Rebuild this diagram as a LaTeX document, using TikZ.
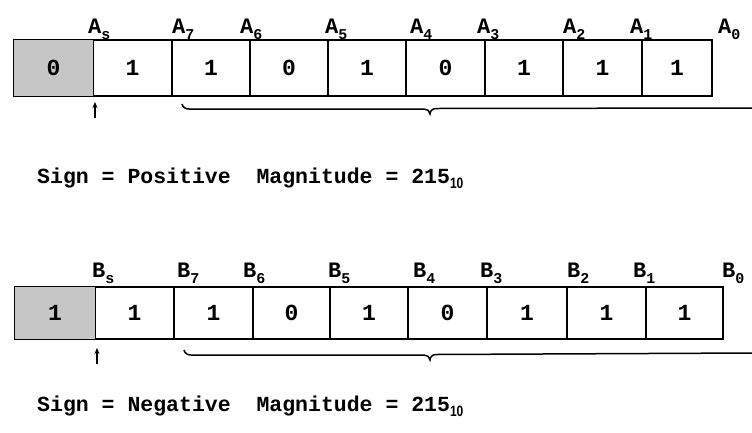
\documentclass[tikz,border=0pt]{standalone}
\usepackage{fontspec}
\usetikzlibrary{arrows.meta}
\newfontfamily\mono{Liberation Mono}
\newfontfamily\subsans{Liberation Sans}[FakeStretch=0.8]
\newcommand{\mysub}[1]{\raisebox{-6pt}{\mono\bfseries\fontsize{15}{15}\selectfont #1}}
\begin{document}
\begin{tikzpicture}[x=1pt,y=-1pt,
  cell/.style={draw, line width=1.5pt, inner sep=0pt, font=\mono\bfseries\fontsize{23}{23}\selectfont},
  lbl/.style={anchor=base west, inner sep=0pt, font=\mono\bfseries\fontsize{22}{22}\selectfont},
  caption/.style={anchor=base west, inner sep=0pt, font=\mono\bfseries\fontsize{21.5}{21.5}\selectfont},
  brc/.style={line width=1.5pt},
  tick/.style={line width=1.5pt, -{Stealth[length=6pt,width=5pt]}}]
\useasboundingbox (0,0) rectangle (752,432);
% ---------- row A ----------
\foreach \l/\r/\v/\nm in {14/93/0/as0,93/172/1/a8,172/250/1/a7,250/328/0/a6,328/406/1/a5,406/485/0/a4,485/563/1/a3,563/642/1/a2,642/712/1/a1}{
  \pgfmathsetmacro\w{\r-\l}
  \pgfmathsetmacro\c{(\l+\r)/2}
  \node[cell, minimum width=\w pt, minimum height=56pt] (\nm) at (\c,68) {\v};
}
\fill[gray!45] ([shift={(0.75pt,0.75pt)}]as0.south west) rectangle ([shift={(-0.75pt,-0.75pt)}]as0.north east);
\node[cell, draw=none] at (as0) {0};
\foreach \x/\s/\nm in {88/s/las,172/7/la7,240/6/la6,325/5/la5,410/4/la4,477/3/la3,563/2/la2,630/1/la1,718/0/la0}{
  \node[lbl] (\nm) at (\x,33) {A\mysub{\s}};
}
\coordinate (aupT) at (95,102);
\coordinate (aupB) at (95,118);
\draw[tick] (aupB) -- (aupT);
\coordinate (abL) at (182,104);
\coordinate (abT) at (430,114);
\coordinate (abR) at (752,108);
\draw[brc] (abL) to[out=-80,in=180] (189,109) -- (424,109) to[out=0,in=90] (abT) to[out=90,in=180] (436,108.5) -- (abR);
\node[caption] (capA) at (37,183) {Sign = Positive\ \ Magnitude = 215\raisebox{-5pt}{\subsans\fontsize{15}{15}\selectfont 10}};
% ---------- row B ----------
\foreach \l/\r/\v/\nm in {15/95/1/bs0,95/174/1/b8,174/253/1/b7,253/330/0/b6,330/408/1/b5,408/487/0/b4,487/567/1/b3,567/646/1/b2,646/723/1/b1}{
  \pgfmathsetmacro\w{\r-\l}
  \pgfmathsetmacro\c{(\l+\r)/2}
  \node[cell, minimum width=\w pt, minimum height=52pt] (\nm) at (\c,313) {\v};
}
\fill[gray!45] ([shift={(0.75pt,0.75pt)}]bs0.south west) rectangle ([shift={(-0.75pt,-0.75pt)}]bs0.north east);
\node[cell, draw=none] at (bs0) {1};
\foreach \x/\s/\nm in {92/s/lbs,177/7/lb7,243/6/lb6,328/5/lb5,413/4/lb4,480/3/lb3,567/2/lb2,633/1/lb1,722/0/lb0}{
  \node[lbl] (\nm) at (\x,277) {B\mysub{\s}};
}
\coordinate (bupT) at (97,348);
\coordinate (bupB) at (97,364);
\draw[tick] (bupB) -- (bupT);
\coordinate (bbL) at (184,350);
\coordinate (bbT) at (430,360);
\coordinate (bbR) at (752,353);
\draw[brc] (bbL) to[out=-80,in=180] (191,355) -- (424,355) to[out=0,in=90] (bbT) to[out=90,in=180] (436,354.5) -- (bbR);
\node[caption] (capB) at (37,411) {Sign = Negative\ \ Magnitude = 215\raisebox{-5pt}{\subsans\fontsize{15}{15}\selectfont 10}};
\end{tikzpicture}
\end{document}
